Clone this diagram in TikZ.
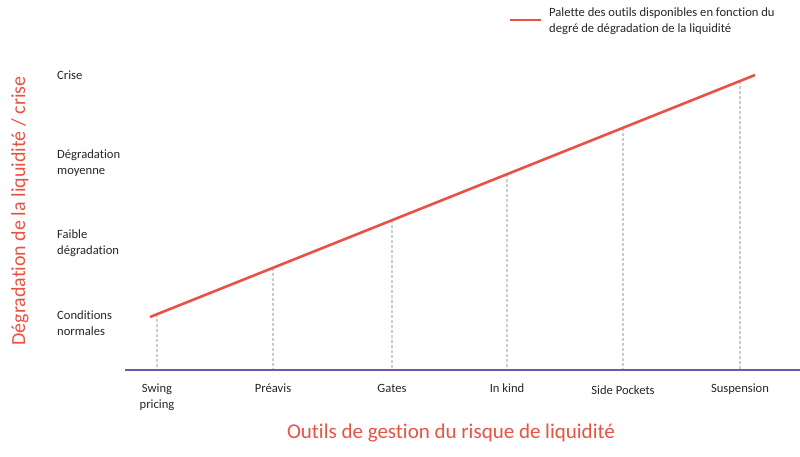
\documentclass[tikz,border=0pt]{standalone}
\usepackage{fontspec}
\setmainfont{Carlito}[Ligatures=NoCommon]
\usetikzlibrary{calc}
\definecolor{redl}{RGB}{232,82,66}
\definecolor{axisc}{RGB}{112,84,180}
\definecolor{dashc}{RGB}{110,110,110}
\begin{document}
\begin{tikzpicture}[x=1pt,y=-1pt,
  lbl/.style={font=\fontsize{12.6}{16}\selectfont, text=black!85, align=left, anchor=west, inner sep=0},
  tool/.style={font=\fontsize{12.6}{16}\selectfont, text=black!85, align=center, anchor=north, inner sep=0},
  guide/.style={dashc, line width=0.7pt, dash pattern=on 3pt off 2pt},
  title/.style={text=redl, inner sep=0}]
\useasboundingbox (0,0) rectangle (800,456);
% axis
\coordinate (ax0) at (125,370);
\coordinate (ax1) at (800,370);
\draw[axisc, line width=1.3pt] (ax0) -- (ax1);
% red palette line
\coordinate (r0) at (150,317);
\coordinate (r1) at (755,75);
% guides
\foreach \n/\x in {a/157,b/273,c/392,d/507,e/623,f/740}{
  \coordinate (top\n) at ($(r0)!{(\x-150)/605}!(r1)$);
  \coordinate (bot\n) at (\x,370);
  \draw[guide] (top\n) -- (bot\n);
}
\draw[redl, line width=2.6pt] (r0) -- (r1);
% tool labels
\node[tool] (ta) at (157,384) {Swing\\pricing};
\node[tool] (tb) at (273,384) {Préavis};
\node[tool] (tc) at (392,384) {Gates};
\node[tool] (td) at (507,384) {In kind};
\node[tool] (te) at (623,386) {Side Pockets};
\node[tool] (tf) at (740,384) {Suspension};
% level labels
\node[lbl] (l1) at (57,75) {Crise};
\node[lbl] (l2) at (57,163) {Dégradation\\moyenne};
\node[lbl] (l3) at (57,243) {Faible\\dégradation};
\node[lbl] (l4) at (57,323) {Conditions\\normales};
% titles
\node[title, rotate=90, font=\fontsize{20}{24}\selectfont] (yt) at (20,211) {Dégradation de la liquidité / crise};
\node[title, font=\fontsize{21}{24}\selectfont] (xt) at (451,433) {Outils de gestion du risque de liquidité};
% legend
\coordinate (lg0) at (510,20);
\coordinate (lg1) at (541,20);
\draw[redl, line width=2.2pt] (lg0) -- (lg1);
\node[lbl] (lgt) at (549,21) {Palette des outils disponibles en fonction du\\degré de dégradation de la liquidité};
\end{tikzpicture}
\end{document}
